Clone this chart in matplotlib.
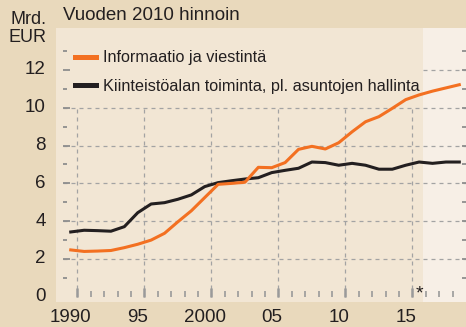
import numpy as np
import matplotlib
matplotlib.use("Agg")
import matplotlib.pyplot as plt
import matplotlib.transforms as mtransforms

plt.rcParams["font.family"] = ["Liberation Sans", "DejaVu Sans"]

# Arvonlisäys vuoden 2010 hinnoin, mrd. EUR
years = np.arange(1990, 2020)
informaatio = [2.48, 2.40, 2.42, 2.45, 2.60, 2.78, 3.00, 3.36, 3.97, 4.55,
               5.25, 5.95, 6.00, 6.06, 6.85, 6.83, 7.10, 7.80, 7.96, 7.82,
               8.15, 8.73, 9.26, 9.53, 9.97, 10.43, 10.68, 10.88, 11.05, 11.22]
kiinteisto = [3.43, 3.52, 3.50, 3.47, 3.71, 4.45, 4.91, 4.98, 5.16, 5.39,
              5.83, 6.04, 6.14, 6.23, 6.30, 6.57, 6.69, 6.80, 7.13, 7.10,
              6.96, 7.06, 6.96, 6.75, 6.75, 6.96, 7.13, 7.06, 7.13, 7.13]
labels = ["Informaatio ja viestintä",
          "Kiinteistöalan toiminta, pl. asuntojen hallinta"]
tick_years = [1990, 1995, 2000, 2005, 2010, 2015]
tick_labels = ["1990", "95", "2000", "05", "10", "15"]
y_ticks = [0, 2, 4, 6, 8, 10, 12]
forecast_start = 2016.3

BG = "#E9D9BC"
PANEL = "#F2E6D4"
FORECAST = "#F7EFE6"
ORANGE = "#F37021"
BLACK = "#231F20"
GRID = "#A3A3A3"
TXT = "#231F20"

fig = plt.figure(figsize=(4.66, 3.27), dpi=100, facecolor=BG)
ax = fig.add_axes([56 / 466, 25 / 327, 410 / 466, 274 / 327])
ax.set_facecolor(PANEL)
ax.set_xlim(1988.9, 2019.5)
ax.set_ylim(-0.275, 14.22)
for s in ax.spines.values():
    s.set_visible(False)
ax.set_xticks([])
ax.set_yticks([])

ax.axvspan(forecast_start, 2019.5, color=FORECAST, lw=0, zorder=0)

# dashed grid: horizontal at even values, vertical every 5 years up to 10
yblend = mtransforms.blended_transform_factory(ax.transAxes, ax.transData)
for v in y_ticks[1:]:
    x0 = 0.017 if v < 12 else (forecast_start - 1988.9) / (2019.5 - 1988.9)
    ax.plot([x0, 1.0], [v, v], transform=yblend, color=GRID, lw=0.9,
            ls=(0, (3.2, 3.2)), zorder=1)
for yr in tick_years:
    ax.plot([yr + 0.5, yr + 0.5], [0, 10], color=GRID, lw=0.9,
            ls=(0, (3.2, 3.2)), zorder=1)

# small tick marks on both sides at every integer
for v in range(1, 14):
    long_tick = v % 2 == 0
    ax.plot([0.017, 0.034 if long_tick else 0.027], [v, v], transform=yblend,
            color="#8E8E8E", lw=1.3, solid_capstyle="butt", zorder=2)
    ax.plot([0.99, 1.0], [v, v], transform=yblend, color="#8E8E8E", lw=1.3,
            solid_capstyle="butt", zorder=2)

# year ticks standing on the zero line
for yr in range(1990, 2019):
    major = yr % 5 == 0
    ax.plot([yr + 0.5, yr + 0.5], [0, 0.48 if major else 0.29],
            color="#9A9A9A", lw=1.8 if major else 1.2,
            solid_capstyle="butt", zorder=2)

ax.plot(years, informaatio, color=ORANGE, lw=2.2, label=labels[0], zorder=4,
        solid_joinstyle="round")
ax.plot(years, kiinteisto, color=BLACK, lw=2.2, label=labels[1], zorder=3,
        solid_joinstyle="round")

ax.text(2016.0, -0.3, "*", ha="center", va="bottom", fontsize=14, color=TXT)

for v in y_ticks:
    ax.text(-0.025, v, str(v), transform=yblend, ha="right", va="center",
            fontsize=13.5, color=TXT)
xblend = mtransforms.blended_transform_factory(ax.transData, fig.transFigure)
for yr, lab in zip(tick_years, tick_labels):
    ax.text(yr, 9 / 327, lab, transform=xblend, ha="center", va="center",
            fontsize=13.5, color=TXT)

fig.text(46 / 466, 1 - 19 / 327, "Mrd.", ha="right", va="center",
         fontsize=13, color=TXT)
fig.text(46 / 466, 1 - 37 / 327, "EUR", ha="right", va="center",
         fontsize=13, color=TXT)
fig.text(63 / 466, 1 - 15 / 327, "Vuoden 2010 hinnoin", ha="left",
         va="center", fontsize=13.5, color=TXT)

leg = ax.legend(loc="upper left", bbox_to_anchor=(0.047, 0.918),
                frameon=False, fontsize=11.7, handlelength=1.3,
                handletextpad=0.4, labelspacing=0.82, borderpad=0,
                borderaxespad=0)
for h in leg.get_lines():
    h.set_linewidth(3.6)
for t in leg.get_texts():
    t.set_color(TXT)

fig.savefig("out.png", dpi=100, facecolor=BG)
